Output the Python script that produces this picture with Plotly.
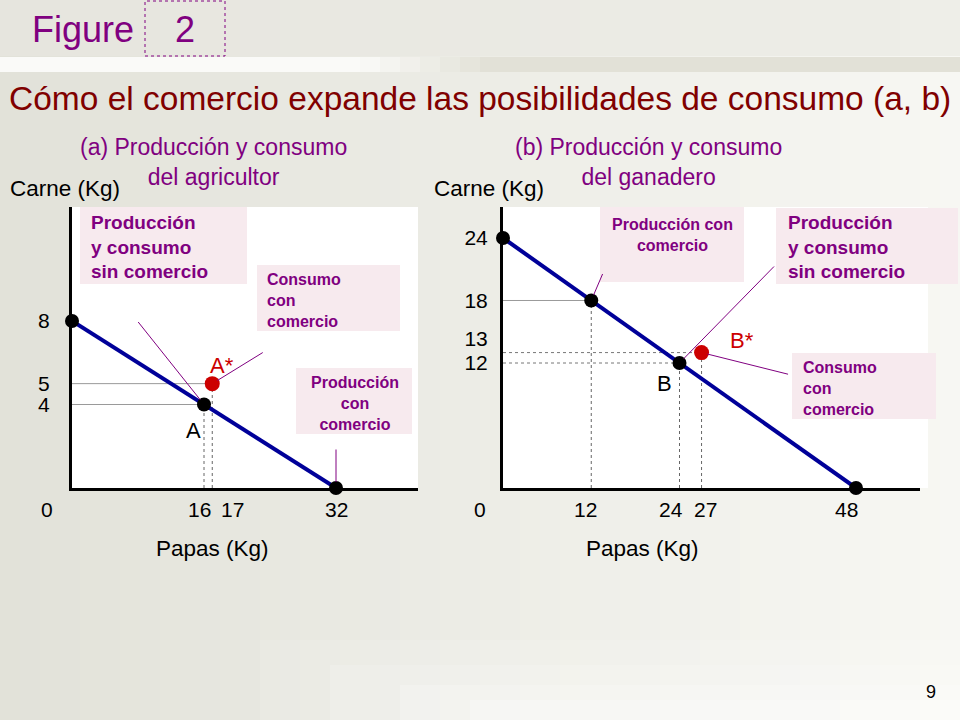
import plotly.graph_objects as go

# (a) agricultor: frontera y puntos
agr_frontera_x = [0, 32]
agr_frontera_y = [8, 0]
agr_sin_comercio = [16, 4]      # A
agr_con_comercio = [17, 5]      # A*
agr_xticks = [16, 17, 32]
agr_yticks = [8, 5, 4]

# (b) ganadero
gan_frontera_x = [0, 48]
gan_frontera_y = [24, 0]
gan_produccion = [12, 18]
gan_sin_comercio = [24, 12]     # B
gan_con_comercio = [27, 13]     # B*
gan_xticks = [12, 24, 27, 48]
gan_yticks = [24, 18, 13, 12]

W, H = 960, 720
FONT = "Liberation Sans"
PURPLE = "#800080"
AZUL = "#000099"
ROJO = "#cc0000"
ROSA = "#f7eaee"
NB = "\u00a0"


def px(x):
    return x / W


def py(y):
    return 1 - y / H


def mezcla(c0, c1, t):
    return "rgb(%d,%d,%d)" % tuple(round(a + (b - a) * t) for a, b in zip(c0, c1))


fig = go.Figure()


def guia(x, y, xa, ya, dash_h, dash_v, col_h="#9a9a9a"):
    fig.add_trace(go.Scatter(x=[0, x], y=[y, y], mode="lines", xaxis=xa, yaxis=ya,
                             line=dict(color=col_h, width=1, dash=dash_h), hoverinfo="skip"))
    fig.add_trace(go.Scatter(x=[x, x], y=[0, y], mode="lines", xaxis=xa, yaxis=ya,
                             line=dict(color="#666666", width=1, dash=dash_v), hoverinfo="skip"))


# lineas guia
guia(agr_sin_comercio[0], agr_sin_comercio[1], "x", "y", "solid", "dot")
guia(agr_con_comercio[0], agr_con_comercio[1], "x", "y", "solid", "dot")
guia(gan_produccion[0], gan_produccion[1], "x2", "y2", "solid", "dot")
guia(gan_sin_comercio[0], gan_sin_comercio[1], "x2", "y2", "dot", "dot", "#777777")
guia(gan_con_comercio[0], gan_con_comercio[1], "x2", "y2", "dot", "dot", "#777777")

# fronteras
fig.add_trace(go.Scatter(x=agr_frontera_x, y=agr_frontera_y, mode="lines", xaxis="x", yaxis="y",
                         line=dict(color=AZUL, width=4), cliponaxis=False))
fig.add_trace(go.Scatter(x=gan_frontera_x, y=gan_frontera_y, mode="lines", xaxis="x2", yaxis="y2",
                         line=dict(color=AZUL, width=4), cliponaxis=False))

# puntos negros
fig.add_trace(go.Scatter(x=agr_frontera_x + [agr_sin_comercio[0]],
                         y=agr_frontera_y + [agr_sin_comercio[1]],
                         mode="markers", xaxis="x", yaxis="y", cliponaxis=False,
                         marker=dict(color="black", size=14)))
fig.add_trace(go.Scatter(x=gan_frontera_x + [gan_produccion[0], gan_sin_comercio[0]],
                         y=gan_frontera_y + [gan_produccion[1], gan_sin_comercio[1]],
                         mode="markers", xaxis="x2", yaxis="y2", cliponaxis=False,
                         marker=dict(color="black", size=14)))
# puntos rojos
fig.add_trace(go.Scatter(x=[agr_con_comercio[0]], y=[agr_con_comercio[1]], mode="markers",
                         xaxis="x", yaxis="y", cliponaxis=False, marker=dict(color=ROJO, size=15)))
fig.add_trace(go.Scatter(x=[gan_con_comercio[0]], y=[gan_con_comercio[1]], mode="markers",
                         xaxis="x2", yaxis="y2", cliponaxis=False, marker=dict(color=ROJO, size=15)))

# fondo degradado
formas = []
n = 48
for i in range(n):
    t = i / (n - 1)
    formas.append(dict(type="rect", xref="paper", yref="paper", layer="below",
                       x0=i / n, x1=(i + 1.05) / n, y0=0, y1=py(56),
                       fillcolor=mezcla((226, 226, 217), (247, 247, 243), t), line_width=0))
    formas.append(dict(type="rect", xref="paper", yref="paper", layer="below",
                       x0=i / n, x1=(i + 1.05) / n, y0=py(56), y1=1,
                       fillcolor=mezcla((230, 229, 222), (238, 238, 232), t), line_width=0))
    xc = (i + 0.5) / n * W
    tb = min(max((xc - 360) / 130, 0), 1)
    formas.append(dict(type="rect", xref="paper", yref="paper", layer="below",
                       x0=i / n, x1=(i + 1.05) / n, y0=py(72), y1=py(57),
                       fillcolor=mezcla((250, 250, 248), (226, 225, 215), tb), line_width=0))
# brillo claro abajo
for x0, y0, a in [(260, 640, 0.12), (330, 665, 0.15), (400, 685, 0.2), (470, 700, 0.25)]:
    formas.append(dict(type="rect", xref="paper", yref="paper", layer="below",
                       x0=px(x0), x1=1, y0=0, y1=py(y0),
                       fillcolor="rgba(255,255,255,%s)" % a, line_width=0))

# paneles blancos
for x0, x1 in [(72, 418), (503, 928)]:
    formas.append(dict(type="rect", xref="paper", yref="paper", layer="below",
                       x0=px(x0), x1=px(x1), y0=py(488), y1=py(207),
                       fillcolor="white", line_width=0))
# cajas rosadas
for x0, y0, x1, y1 in [(80, 207, 247, 284), (257, 265, 400, 331), (296, 368, 412, 434),
                       (600, 207, 744, 282), (776, 208, 958, 284), (792, 353, 936, 419)]:
    formas.append(dict(type="rect", xref="paper", yref="paper", layer="below",
                       x0=px(x0), x1=px(x1), y0=py(y1), y1=py(y0),
                       fillcolor=ROSA, line_width=0))
# caja del numero de figura
formas.append(dict(type="rect", xref="paper", yref="paper", layer="above",
                   x0=px(145), x1=px(225), y0=py(56), y1=py(1),
                   line=dict(color=PURPLE, width=1, dash="dot"), fillcolor="rgba(0,0,0,0)"))

notas = []


def texto(x, y, t, size, color="black", xanchor="left", align="left"):
    notas.append(dict(x=px(x), y=py(y), xref="paper", yref="paper", text=t, showarrow=False,
                      xanchor=xanchor, yanchor="middle", align=align,
                      font=dict(family=FONT, size=size, color=color)))


texto(30, 30, "Figure", 36, PURPLE)
texto(185, 30, "2", 36, PURPLE, "center")
texto(7, 99, "Cómo el comercio expande las posibilidades de consumo (a, b)", 33.5, "#800000")
texto(213, 162, "(a) Producción y consumo<br>del agricultor", 23, PURPLE, "center", "center")
texto(648, 162, "(b) Producción y consumo<br>del ganadero", 23, PURPLE, "center", "center")
texto(8, 189, "Carne (Kg)", 22.5)
texto(432, 189, "Carne (Kg)", 22.5)
texto(154, 548, "Papas (Kg)", 22.5)
texto(584, 548, "Papas (Kg)", 22.5)
texto(47, 509, "0", 21, xanchor="center")
texto(480, 509, "0", 21, xanchor="center")
texto(931, 692, "9", 18, xanchor="center")

texto(89, 247, "<b>Producción<br>y consumo<br>sin comercio</b>", 19, PURPLE)
texto(265, 300, "<b>Consumo<br>con<br>comercio</b>", 16, PURPLE)
texto(355, 403, "<b>Producción<br>con<br>comercio</b>", 16, PURPLE, "center", "center")
texto(672, 235, "<b>Producción con<br>comercio</b>", 16, PURPLE, "center", "center")
texto(786, 247, "<b>Producción<br>y consumo<br>sin comercio</b>", 19, PURPLE)
texto(801, 388, "<b>Consumo<br>con<br>comercio</b>", 16, PURPLE)


def etiqueta(p, xa, ya, t, color, dx, dy):
    notas.append(dict(x=p[0], y=p[1], xref=xa, yref=ya, text=t, showarrow=False,
                      xshift=dx, yshift=dy, font=dict(family=FONT, size=22, color=color)))


etiqueta(agr_sin_comercio, "x", "y", "A", "black", -11, -26)
etiqueta(agr_con_comercio, "x", "y", "A*", ROJO, 10, 18)
etiqueta(gan_sin_comercio, "x2", "y2", "B", "black", -15, -20)
etiqueta(gan_con_comercio, "x2", "y2", "B*", ROJO, 40, 12)


def guia_caja(p, xa, ya, ax, ay):
    notas.append(dict(x=p[0], y=p[1], xref=xa, yref=ya, text="", showarrow=True,
                      arrowhead=0, arrowwidth=1, arrowcolor=PURPLE, ax=ax, ay=ay, standoff=6))


guia_caja(agr_sin_comercio, "x", "y", -67, -84)
guia_caja(agr_con_comercio, "x", "y", 52, -32)
guia_caja([agr_frontera_x[1], agr_frontera_y[1]], "x", "y", 0, -40)
guia_caja(gan_produccion, "x2", "y2", 12, -28)
guia_caja(gan_sin_comercio, "x2", "y2", 96, -98)
guia_caja(gan_con_comercio, "x2", "y2", 88, 22)

# etiquetas del eje x: colocadas en la escala del eje, separadas un poco donde quedan juntas
despl_agr = [-5, 20, 0]
despl_gan = [-6, -9, 4, -9]
for xa, vals, despl in [("x", agr_xticks, despl_agr), ("x2", gan_xticks, despl_gan)]:
    for v, d in zip(vals, despl):
        notas.append(dict(x=v, y=py(509), xref=xa, yref="paper", text=str(v), showarrow=False,
                          xshift=d, yanchor="middle",
                          font=dict(family=FONT, size=21, color="black")))

gan_ytext = ["24", "18", "13<br>" + NB, "12"]

eje = dict(showline=True, linewidth=3, linecolor="black", showgrid=False, zeroline=False,
           ticks="outside", tickcolor="rgba(0,0,0,0)", tickmode="array", tickangle=0,
           tickfont=dict(family=FONT, size=21, color="black"), fixedrange=True)

# escalas: a) 0..32 -> 72..336 px, 0..8 -> 488..321 px ; b) 0..48 -> 503..856 px, 0..24 -> 488..238 px
fig.update_layout(
    width=W, height=H, margin=dict(l=0, r=0, t=0, b=0),
    paper_bgcolor="rgb(236,236,230)", plot_bgcolor="rgba(0,0,0,0)",
    showlegend=False, shapes=formas, annotations=notas,
    xaxis=dict(eje, domain=[px(72), px(418)], range=[0, (418 - 72) / 8.25], anchor="y",
               showticklabels=False, ticks=""),
    yaxis=dict(eje, domain=[py(488), py(207)], range=[0, (488 - 207) / 20.875], anchor="x",
               tickvals=agr_yticks, ticktext=[str(v) for v in agr_yticks], ticklen=15),
    xaxis2=dict(eje, domain=[px(503), px(920)], range=[0, (920 - 503) / 7.354], anchor="y2",
                showticklabels=False, ticks=""),
    yaxis2=dict(eje, domain=[py(488), py(207)], range=[0, (488 - 207) / 10.417], anchor="x2",
                tickvals=gan_yticks, ticktext=gan_ytext, ticklen=8),
)

fig.write_html("out.html", config={"displayModeBar": False},
               post_script="document.body.style.margin='0';")
